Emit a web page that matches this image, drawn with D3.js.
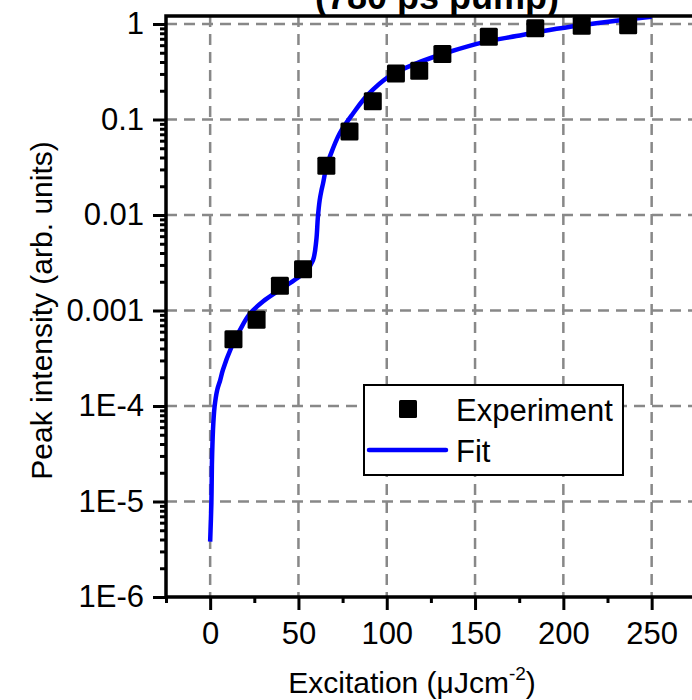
<!DOCTYPE html>
<html>
<head>
<meta charset="utf-8">
<script src="https://cdn.jsdelivr.net/npm/d3@7"></script>
<style>
  body { margin: 0; background: #fff; }
  svg { display: block; font-family: Arial, "Liberation Sans", sans-serif; }
</style>
</head>
<body>
<svg id="chart" width="692" height="700"></svg>
<script>
'use strict';

// measured points (excitation in uJ/cm2, normalised peak intensity)
const expX = [13.2, 26.3, 39.5, 52.6, 65.8, 78.9, 92.1, 105.2, 118.4, 131.5, 157.8, 184.1, 210.4, 236.7];
const expY = [5.0e-4, 8.0e-4, 1.82e-3, 2.71e-3, 0.0327, 0.075, 0.155, 0.304, 0.324, 0.484, 0.736, 0.90, 0.96, 0.97];

// fit curve
const fitX = [0, 0.7, 1.0, 1.6, 2.5, 4.0, 5.7, 7.2, 12.0, 16.7, 22.4, 29.9, 39.4, 48.8, 54.5, 58.2, 60.1, 61.0,
  62.0, 63.0, 63.9, 65.8, 67.7, 73.3, 80.9, 89.2, 101.6, 116.8, 135.6, 154.5, 173.4, 192.2, 211.1, 230.0, 250.0];
const fitY = [3.8e-6, 9.7e-6, 2.45e-5, 5.6e-5, 9.8e-5, 1.47e-4, 1.87e-4, 2.38e-4, 4.1e-4, 6.15e-4, 9.2e-4, 1.24e-3,
  1.64e-3, 2.15e-3, 2.62e-3, 3.34e-3, 5.4e-3, 9.5e-3, 0.0142, 0.018, 0.0213, 0.0318, 0.0405, 0.0713, 0.1156,
  0.181, 0.285, 0.387, 0.512, 0.643, 0.748, 0.865, 0.976, 1.083, 1.19];

const xTicks = [0, 50, 100, 150, 200, 250];
const xMinorTicks = [-25, 25, 75, 125, 175, 225, 275];
const yTicks = [1, 0.1, 0.01, 0.001, 1e-4, 1e-5, 1e-6];
const yTickLabels = ['1', '0.1', '0.01', '0.001', '1E-4', '1E-5', '1E-6'];

const svg = d3.select('#chart');
const font = 'Arial, "Liberation Sans", sans-serif';

const plotLeft = 166, plotTop = 16, plotBottom = 597;
const x = d3.scaleLinear().domain([-25, 290]).range([plotLeft, plotLeft + 315 * 1.766]);
const y = d3.scaleLog().domain([1e-6, 1]).range([plotBottom, 24]);

const yMinor = [];
yTicks.slice(1).forEach(t => {
  for (let k = 2; k <= 9; k++) yMinor.push(t * k);
});

svg.append('defs').append('clipPath').attr('id', 'plot')
  .append('rect')
  .attr('x', plotLeft)
  .attr('y', plotTop)
  .attr('width', 692 - plotLeft)
  .attr('height', plotBottom - plotTop);

// grid
const grid = svg.append('g')
  .attr('stroke', '#888')
  .attr('stroke-width', 2.5)
  .attr('stroke-dasharray', '11,7');
grid.selectAll('.gx')
  .data(xTicks)
  .join('line')
  .attr('x1', d => x(d))
  .attr('x2', d => x(d))
  .attr('y1', plotTop)
  .attr('y2', plotBottom);
grid.selectAll('.gy')
  .data(yTicks.slice(0, -1))
  .join('line')
  .attr('x1', plotLeft)
  .attr('x2', 692)
  .attr('y1', d => y(d))
  .attr('y2', d => y(d));

const plot = svg.append('g').attr('clip-path', 'url(#plot)');

const line = d3.line()
  .x((d, i) => x(fitX[i]))
  .y(d => y(d))
  .curve(d3.curveCatmullRom.alpha(0.5));

plot.append('path')
  .datum(fitY)
  .attr('d', line)
  .attr('fill', 'none')
  .attr('stroke', '#0000ff')
  .attr('stroke-width', 4.5);

plot.selectAll('.pt')
  .data(expY)
  .join('rect')
  .attr('x', (d, i) => x(expX[i]) - 9)
  .attr('y', d => y(d) - 9)
  .attr('width', 18)
  .attr('height', 18)
  .attr('rx', 1.5)
  .attr('fill', 'black');

// axes
const styleAxis = (g) => {
  g.select('.domain').remove();
  g.selectAll('.tick line').attr('stroke', 'black').attr('stroke-width', 3);
  g.selectAll('.tick text').attr('fill', 'black').attr('font-size', 31).attr('font-family', font);
};

svg.append('g')
  .attr('transform', `translate(0,${plotBottom})`)
  .call(d3.axisBottom(x).tickValues(xTicks).tickSize(13).tickPadding(12).tickFormat(d3.format('d')))
  .call(styleAxis);
svg.append('g')
  .attr('transform', `translate(0,${plotBottom})`)
  .call(d3.axisBottom(x).tickValues(xMinorTicks).tickSize(6).tickFormat(''))
  .call(styleAxis);

svg.append('g')
  .attr('transform', `translate(${plotLeft},0)`)
  .call(d3.axisLeft(y).tickValues(yTicks).tickSize(13).tickPadding(9).tickFormat((d, i) => yTickLabels[i]))
  .call(styleAxis);
svg.append('g')
  .attr('transform', `translate(${plotLeft},0)`)
  .call(d3.axisLeft(y).tickValues(yMinor).tickSize(6).tickFormat(''))
  .call(styleAxis);

// frame
svg.append('path')
  .attr('d', `M692,${plotTop}H${plotLeft}V${plotBottom}H692`)
  .attr('fill', 'none')
  .attr('stroke', 'black')
  .attr('stroke-width', 3.5);

// legend
const legend = svg.append('g');
legend.append('rect')
  .attr('x', 364)
  .attr('y', 385)
  .attr('width', 259)
  .attr('height', 90)
  .attr('fill', 'white')
  .attr('stroke', 'black')
  .attr('stroke-width', 2);
legend.append('rect')
  .attr('x', 399)
  .attr('y', 400)
  .attr('width', 18)
  .attr('height', 18)
  .attr('rx', 1.5)
  .attr('fill', 'black');
legend.append('line')
  .attr('x1', 369)
  .attr('x2', 446)
  .attr('y1', 450)
  .attr('y2', 450)
  .attr('stroke', '#0000ff')
  .attr('stroke-width', 4.5)
  .attr('stroke-linecap', 'round');
legend.append('text')
  .attr('x', 456)
  .attr('y', 421)
  .attr('font-size', 31)
  .text('Experiment');
legend.append('text')
  .attr('x', 456)
  .attr('y', 462)
  .attr('font-size', 31)
  .text('Fit');

// titles
svg.append('text')
  .attr('x', 437)
  .attr('y', 9)
  .attr('text-anchor', 'middle')
  .attr('font-size', 36)
  .attr('font-weight', 'bold')
  .text('(780 ps pump)');

const xt = svg.append('text')
  .attr('x', 412)
  .attr('y', 693)
  .attr('text-anchor', 'middle')
  .attr('font-size', 30);
xt.append('tspan').text('Excitation (μJcm');
xt.append('tspan').attr('font-size', 19).attr('dy', -13).text('-2');
xt.append('tspan').attr('dy', 13).text(')');

svg.append('text')
  .attr('transform', `translate(52,${(plotTop + plotBottom) / 2 + 4}) rotate(-90)`)
  .attr('text-anchor', 'middle')
  .attr('font-size', 30)
  .text('Peak intensity (arb. units)');
</script>
</body>
</html>
